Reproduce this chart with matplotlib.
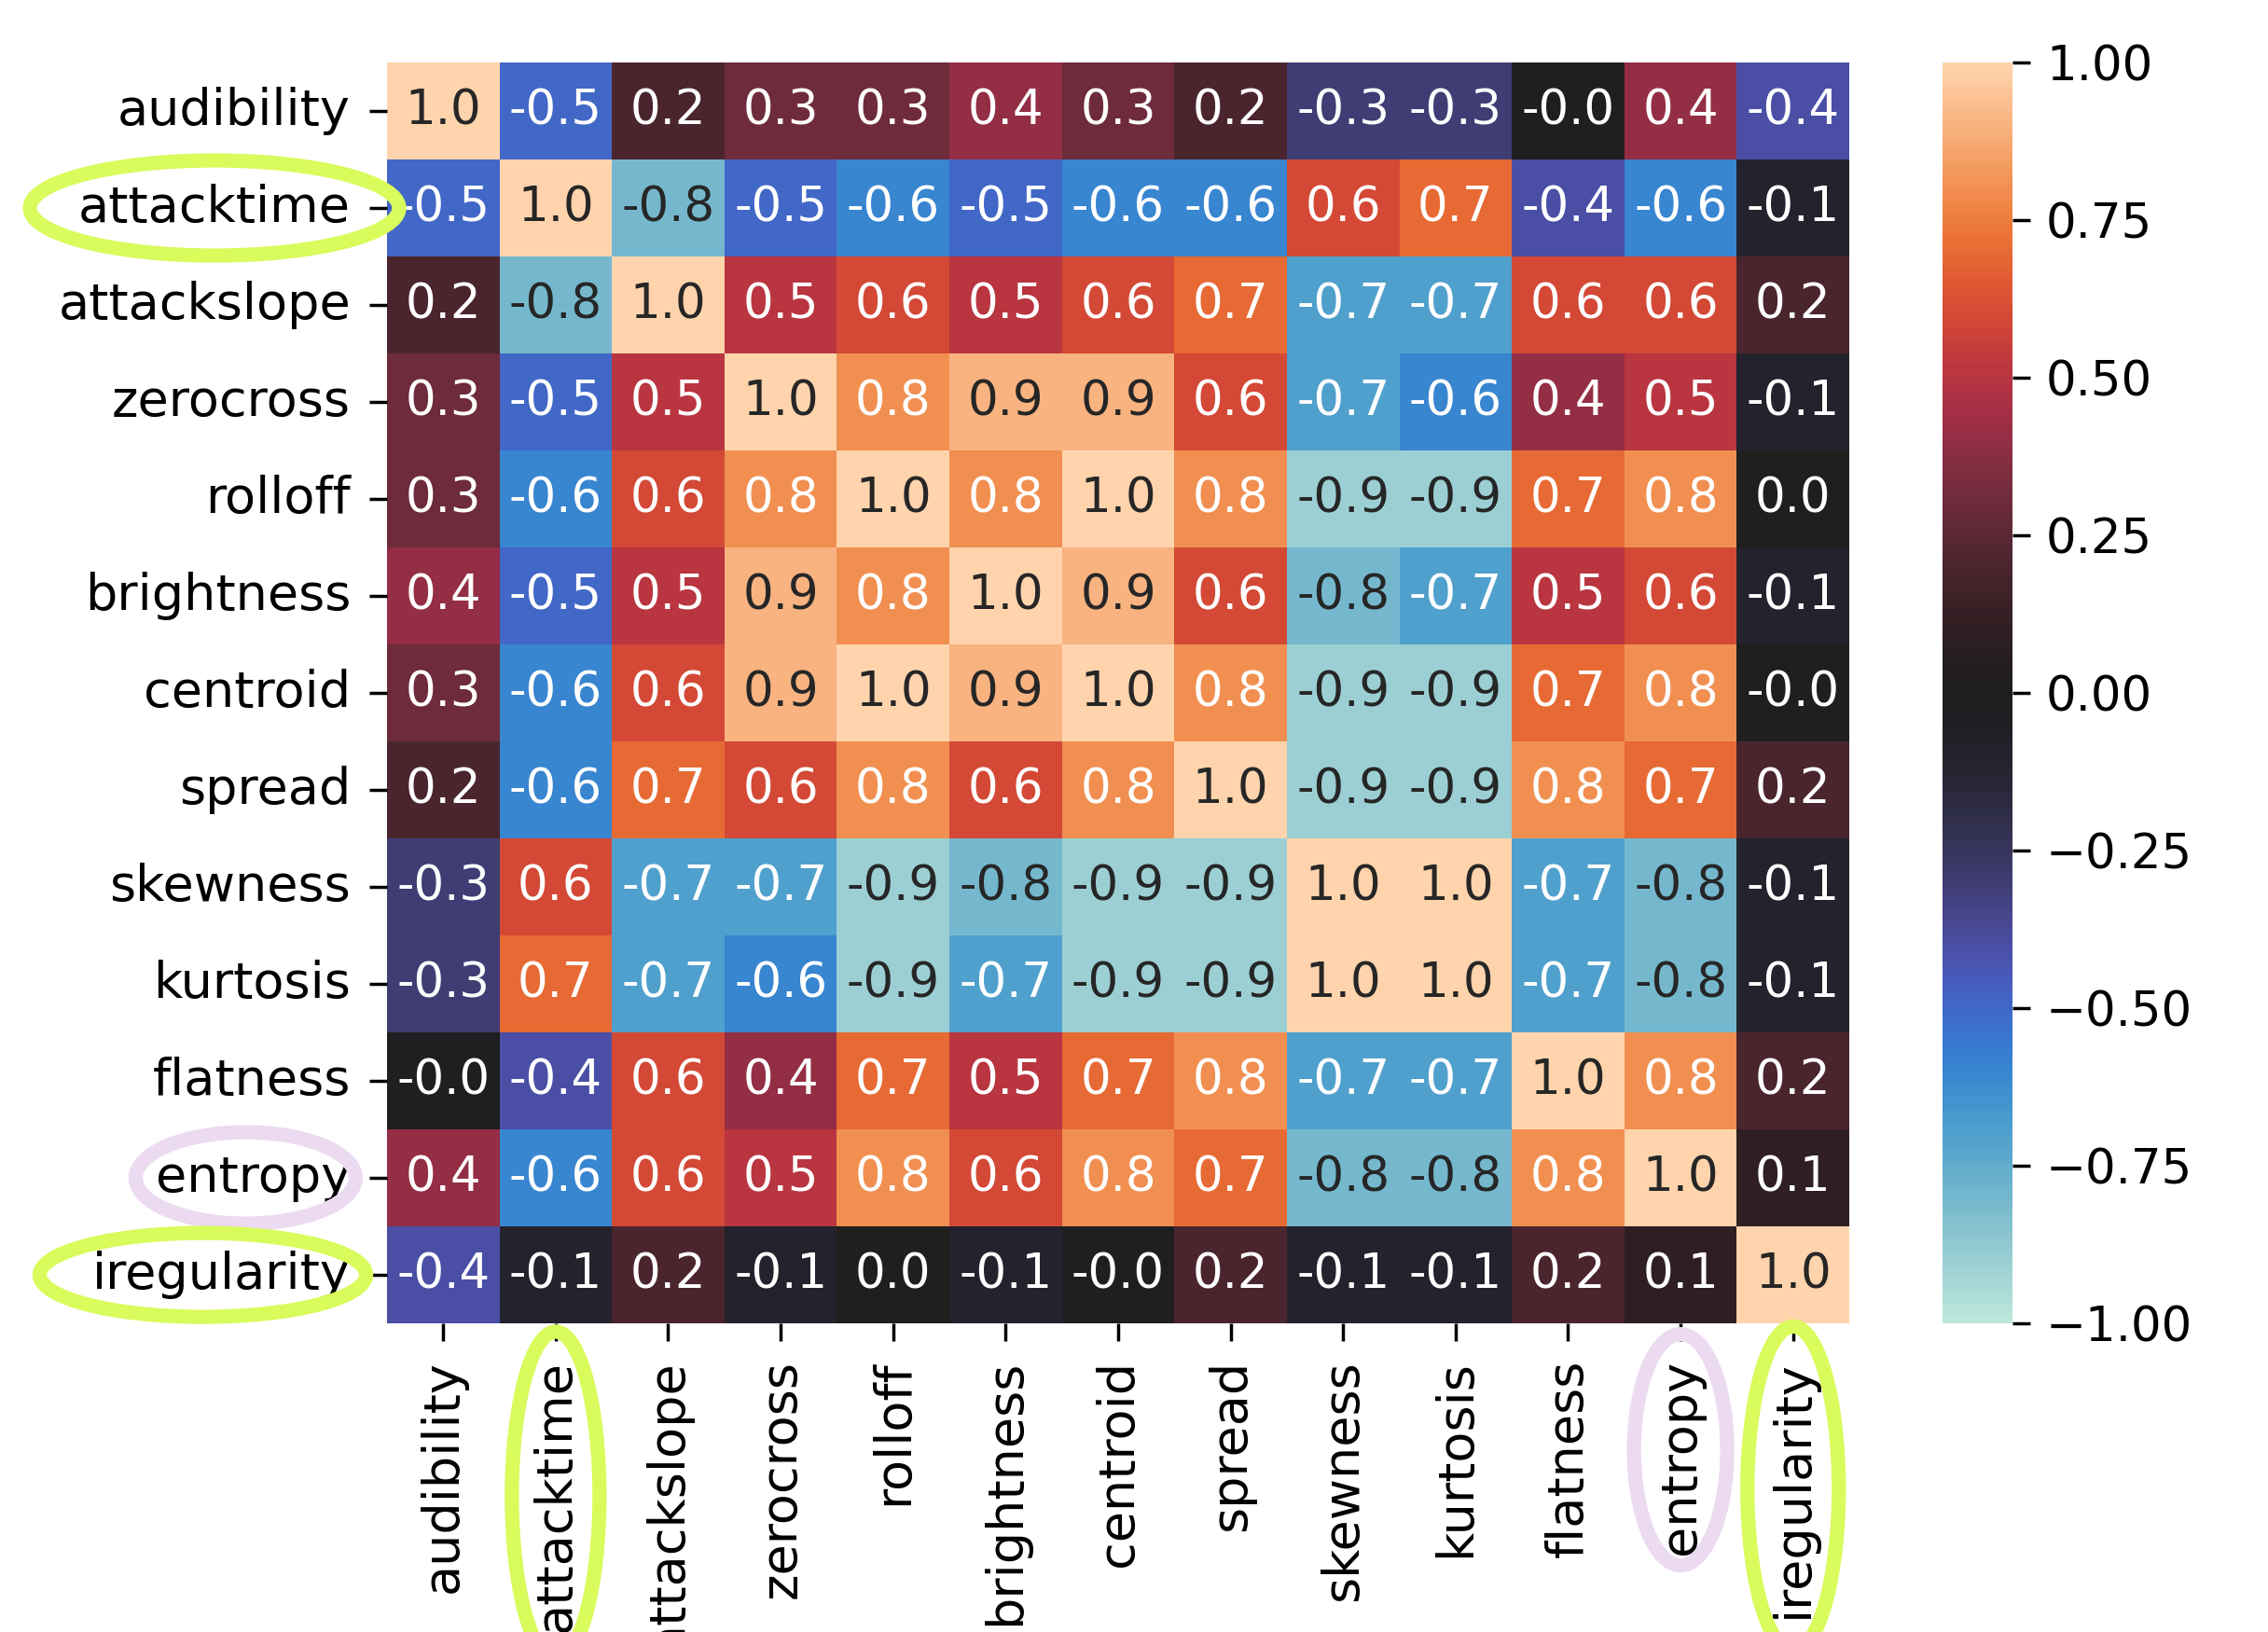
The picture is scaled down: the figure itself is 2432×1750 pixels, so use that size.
import numpy as np
import matplotlib
matplotlib.use('Agg')
import matplotlib.pyplot as plt
import seaborn as sns
from matplotlib.patches import Ellipse
from matplotlib.transforms import IdentityTransform


features = ['audibility', 'attacktime', 'attackslope', 'zerocross', 'rolloff',
            'brightness', 'centroid', 'spread', 'skewness', 'kurtosis',
            'flatness', 'entropy', 'iregularity']

# correlation values (shown with one decimal)
corr = np.array([
    [1.0, -0.5, 0.2, 0.3, 0.3, 0.4, 0.3, 0.2, -0.3, -0.3, -0.02, 0.4, -0.4],
    [-0.5, 1.0, -0.8, -0.5, -0.6, -0.5, -0.6, -0.6, 0.6, 0.7, -0.4, -0.6, -0.1],
    [0.2, -0.8, 1.0, 0.5, 0.6, 0.5, 0.6, 0.7, -0.7, -0.7, 0.6, 0.6, 0.2],
    [0.3, -0.5, 0.5, 1.0, 0.8, 0.9, 0.9, 0.6, -0.7, -0.6, 0.4, 0.5, -0.1],
    [0.3, -0.6, 0.6, 0.8, 1.0, 0.8, 1.0, 0.8, -0.9, -0.9, 0.7, 0.8, 0.02],
    [0.4, -0.5, 0.5, 0.9, 0.8, 1.0, 0.9, 0.6, -0.8, -0.7, 0.5, 0.6, -0.1],
    [0.3, -0.6, 0.6, 0.9, 1.0, 0.9, 1.0, 0.8, -0.9, -0.9, 0.7, 0.8, -0.02],
    [0.2, -0.6, 0.7, 0.6, 0.8, 0.6, 0.8, 1.0, -0.9, -0.9, 0.8, 0.7, 0.2],
    [-0.3, 0.6, -0.7, -0.7, -0.9, -0.8, -0.9, -0.9, 1.0, 1.0, -0.7, -0.8, -0.1],
    [-0.3, 0.7, -0.7, -0.6, -0.9, -0.7, -0.9, -0.9, 1.0, 1.0, -0.7, -0.8, -0.1],
    [-0.02, -0.4, 0.6, 0.4, 0.7, 0.5, 0.7, 0.8, -0.7, -0.7, 1.0, 0.8, 0.2],
    [0.4, -0.6, 0.6, 0.5, 0.8, 0.6, 0.8, 0.7, -0.8, -0.8, 0.8, 1.0, 0.1],
    [-0.4, -0.1, 0.2, -0.1, 0.02, -0.1, -0.02, 0.2, -0.1, -0.1, 0.2, 0.1, 1.0],
])

# hand drawn marks: (axis, label, colour, width px, height px, dx px, dy px)
LIME = '#d9fb5c'
LAVENDER = '#ecdaf1'
marks = [
    ('y', 'attacktime', LIME, 396, 102, 0, 0),
    ('y', 'entropy', LAVENDER, 236, 98, -8, 0),
    ('y', 'iregularity', LIME, 350, 90, -20, 0),
    ('x', 'attacktime', LIME, 94, 352, 0, 0),
    ('x', 'entropy', LAVENDER, 100, 248, 0, 8),
    ('x', 'iregularity', LIME, 98, 348, 0, 0),
]

FS = 37

fig = plt.figure(figsize=(24.32, 17.5), dpi=100)
ax = fig.add_axes([0.1706, 0.1891, 0.6448, 0.7726])
cax = fig.add_axes([0.8565, 0.1891, 0.0308, 0.7726])

sns.heatmap(corr, ax=ax, cbar_ax=cax, cmap='icefire', vmin=-1, vmax=1,
            center=0, annot=True, fmt='.1f', annot_kws={'size': FS},
            xticklabels=features, yticklabels=features)

ax.tick_params(axis='both', labelsize=39, length=14, width=2.5, pad=14)
ax.set_xticklabels(features, rotation=90)
ax.set_yticklabels(features, rotation=0)

cax.tick_params(labelsize=FS, length=14, width=2.5, pad=12)
cax.set_yticks([-1, -0.75, -0.5, -0.25, 0, 0.25, 0.5, 0.75, 1.0])
cax.set_yticklabels(['\u22121.00', '\u22120.75', '\u22120.50', '\u22120.25',
                     '0.00', '0.25', '0.50', '0.75', '1.00'])

# draw the rings round the labels once positions are known
fig.canvas.draw()
renderer = fig.canvas.get_renderer()
for axis, name, color, w, h, dx, dy in marks:
    labels = ax.get_yticklabels() if axis == 'y' else ax.get_xticklabels()
    lab = [t for t in labels if t.get_text() == name][0]
    bb = lab.get_window_extent(renderer)
    cx = bb.x0 + bb.width / 2 + dx
    cy = bb.y0 + bb.height / 2 + dy
    ring = Ellipse((cx, cy), w, h, fill=False, edgecolor=color,
                   linewidth=11, transform=IdentityTransform(), clip_on=False)
    fig.add_artist(ring)

plt.savefig('out.png', dpi=100)
